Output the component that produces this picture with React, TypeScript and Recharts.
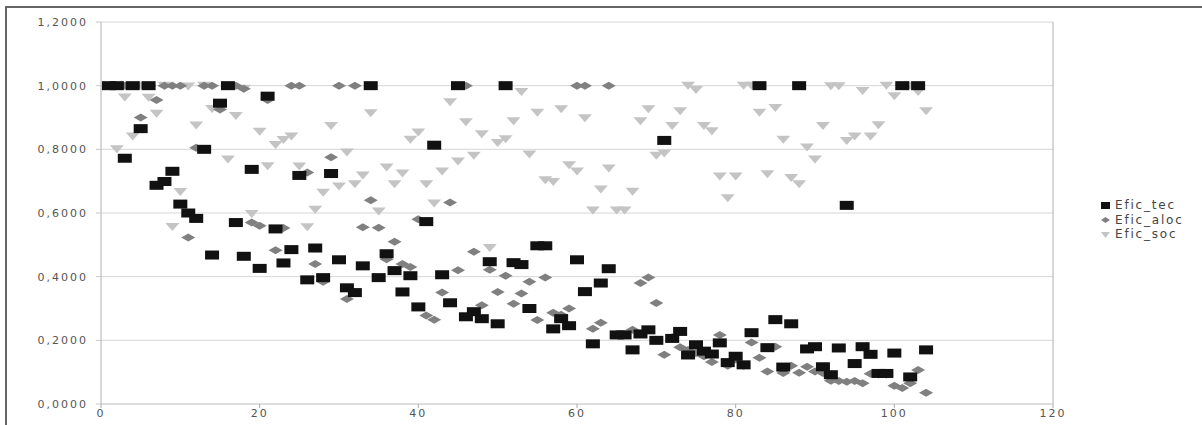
import React from 'react'
import {
  ScatterChart,
  Scatter,
  XAxis,
  YAxis,
  CartesianGrid,
  ReferenceLine,
} from 'recharts'

// x positions are the DMU index 1..104, one value per index
const xTicks = [0, 20, 40, 60, 80, 100, 120]
const yTicks = [0, 0.2, 0.4, 0.6, 0.8, 1.0, 1.2]

const eficTec = [
  1.0, 1.0, 0.772, 1.0, 0.865, 1.0, 0.687, 0.699, 0.731, 0.628,
  0.6, 0.583, 0.8, 0.468, 0.945, 1.0, 0.57, 0.464, 0.737, 0.426,
  0.967, 0.55, 0.443, 0.485, 0.718, 0.39, 0.49, 0.397, 0.724, 0.453,
  0.365, 0.35, 0.434, 1.0, 0.397, 0.472, 0.419, 0.352, 0.403, 0.305,
  0.573, 0.813, 0.406, 0.318, 1.0, 0.274, 0.29, 0.268, 0.447, 0.252,
  1.0, 0.444, 0.438, 0.3, 0.497, 0.497, 0.236, 0.268, 0.246, 0.453,
  0.353, 0.189, 0.38, 0.425, 0.217, 0.217, 0.17, 0.22, 0.233, 0.2,
  0.828, 0.206, 0.228, 0.154, 0.186, 0.166, 0.157, 0.192, 0.13, 0.15,
  0.123, 0.224, 1.0, 0.177, 0.265, 0.116, 0.252, 1.0, 0.173, 0.18,
  0.117, 0.092, 0.176, 0.624, 0.127, 0.18, 0.156, 0.096, 0.096, 0.16,
  1.0, 0.085, 1.0, 0.17,
]

const eficAloc = [
  1.0, 1.0, 1.0, 1.0, 0.9, 1.0, 0.955, 1.0, 1.0, 1.0,
  0.523, 0.805, 1.0, 1.0, 0.925, 1.0, 1.0, 0.99, 0.57, 0.56,
  0.955, 0.483, 0.553, 1.0, 1.0, 0.727, 0.44, 0.384, 0.775, 1.0,
  0.33, 1.0, 0.555, 0.64, 0.554, 0.455, 0.51, 0.44, 0.43, 0.58,
  0.278, 0.265, 0.35, 0.633, 0.42, 1.0, 0.478, 0.31, 0.422, 0.352,
  0.403, 0.315, 0.347, 0.384, 0.264, 0.397, 0.287, 0.28, 0.3, 1.0,
  1.0, 0.236, 0.255, 1.0, 0.22, 0.22, 0.233, 0.38, 0.397, 0.317,
  0.155, 0.21, 0.178, 0.17, 0.16, 0.15, 0.132, 0.217, 0.12, 0.14,
  0.12, 0.193, 0.145, 0.102, 0.18, 0.097, 0.12, 0.098, 0.117, 0.102,
  0.097, 0.073, 0.072, 0.07, 0.072, 0.065, 0.095, 0.093, 0.093, 0.057,
  0.05, 0.065, 0.107, 0.035,
]

const eficSoc = [
  1.0, 0.8, 0.963, 0.84, 1.0, 0.962, 0.912, 1.0, 0.556, 0.666,
  0.997, 0.875, 1.0, 0.927, 0.925, 0.768, 0.905, 0.99, 0.597, 0.855,
  0.747, 0.814, 0.829, 0.84, 0.746, 0.555, 0.61, 0.664, 0.873, 0.683,
  0.79, 0.69, 0.718, 0.913, 0.605, 0.743, 0.69, 0.724, 0.83, 0.853,
  0.69, 0.63, 0.73, 0.948, 0.762, 0.885, 0.78, 0.847, 0.49, 0.82,
  0.832, 0.888, 0.98, 0.784, 0.915, 0.703, 0.697, 0.926, 0.75, 0.73,
  0.898, 0.608, 0.674, 0.74, 0.608, 0.608, 0.667, 0.888, 0.926, 0.78,
  0.787, 0.873, 0.92, 1.0, 0.986, 0.873, 0.857, 0.715, 0.646, 0.715,
  1.0, 1.0, 0.915, 0.722, 0.93, 0.83, 0.71, 0.69, 0.806, 0.768,
  0.873, 0.998, 0.998, 0.826, 0.84, 0.983, 0.84, 0.876, 1.0, 0.967,
  1.0, 1.0, 0.98, 0.92,
]

const seriesNames = ['Efic_tec', 'Efic_aloc', 'Efic_soc']
const colors = { tec: '#111111', aloc: '#808080', soc: '#c4c4c4' }

const toPoints = (ys: number[]) => ys.map((y, i) => ({ x: i + 1, y }))

const fmtY = (v: number) => v.toFixed(4).replace('.', ',')

const SquareMark = (p: any) => (
  <rect x={p.cx - 7} y={p.cy - 4.5} width={14} height={9} fill={colors.tec} />
)

const DiamondMark = (p: any) => (
  <polygon
    points={`${p.cx - 7},${p.cy} ${p.cx},${p.cy - 4} ${p.cx + 7},${p.cy} ${p.cx},${p.cy + 4}`}
    fill={colors.aloc}
  />
)

const TriangleMark = (p: any) => (
  <polygon
    points={`${p.cx - 7},${p.cy - 4} ${p.cx + 7},${p.cy - 4} ${p.cx},${p.cy + 4}`}
    fill={colors.soc}
  />
)

const tickStyle = { fill: '#555', fontSize: 11, fontFamily: 'DejaVu Sans', letterSpacing: 2 }

function LegendBox() {
  const icons = [
    <rect key="s" x={1} y={3} width={9} height={7} fill={colors.tec} />,
    <polygon key="d" points="1,7 5.5,4 10,7 5.5,10" fill={colors.aloc} />,
    <polygon key="t" points="1,4 10,4 5.5,10" fill={colors.soc} />,
  ]
  return (
    <div style={{ fontFamily: 'DejaVu Sans', fontSize: 12, color: '#444', letterSpacing: 1.8 }}>
      {seriesNames.map((name, i) => (
        <div key={name} style={{ display: 'flex', alignItems: 'center', height: 14.5 }}>
          <svg width={12} height={13} style={{ marginRight: 3 }}>
            {icons[i]}
          </svg>
          <span>{name}</span>
        </div>
      ))}
    </div>
  )
}

export default function App() {
  return (
    <div
      style={{
        position: 'absolute',
        left: 0,
        top: 0,
        width: 1202,
        height: 425,
        background: '#fff',
        overflow: 'hidden',
      }}
    >
      <div
        style={{
          position: 'absolute',
          left: 5,
          top: 6,
          width: 1300,
          height: 600,
          borderTop: '2px solid #666',
          borderLeft: '2px solid #666',
        }}
      />
      <div style={{ position: 'absolute', left: 0, top: 0 }}>
        <ScatterChart
          width={1202}
          height={425}
          margin={{ top: 22, right: 149, bottom: 0, left: 0 }}
        >
          <CartesianGrid vertical={false} stroke="#d6d6d6" />
          <XAxis
            type="number"
            dataKey="x"
            domain={[0, 120]}
            ticks={xTicks}
            interval={0}
            height={21}
            tick={tickStyle}
            tickSize={4}
            tickMargin={1}
            axisLine={{ stroke: '#d0d0d0' }}
            tickLine={{ stroke: '#aaa' }}
          />
          <YAxis
            type="number"
            dataKey="y"
            domain={[0, 1.2]}
            ticks={yTicks}
            interval={0}
            width={101}
            tick={tickStyle}
            tickFormatter={fmtY}
            tickSize={5}
            tickMargin={8}
            axisLine={{ stroke: '#b0b0b0' }}
            tickLine={{ stroke: '#c8c8c8' }}
          />
          <ReferenceLine x={120} stroke="#b0b0b0" />
          <Scatter
            name={seriesNames[2]}
            data={toPoints(eficSoc)}
            shape={TriangleMark}
            isAnimationActive={false}
          />
          <Scatter
            name={seriesNames[1]}
            data={toPoints(eficAloc)}
            shape={DiamondMark}
            isAnimationActive={false}
          />
          <Scatter
            name={seriesNames[0]}
            data={toPoints(eficTec)}
            shape={SquareMark}
            isAnimationActive={false}
          />
        </ScatterChart>
      </div>
      <div style={{ position: 'absolute', left: 1100, top: 198 }}>
        <LegendBox />
      </div>
    </div>
  )
}
